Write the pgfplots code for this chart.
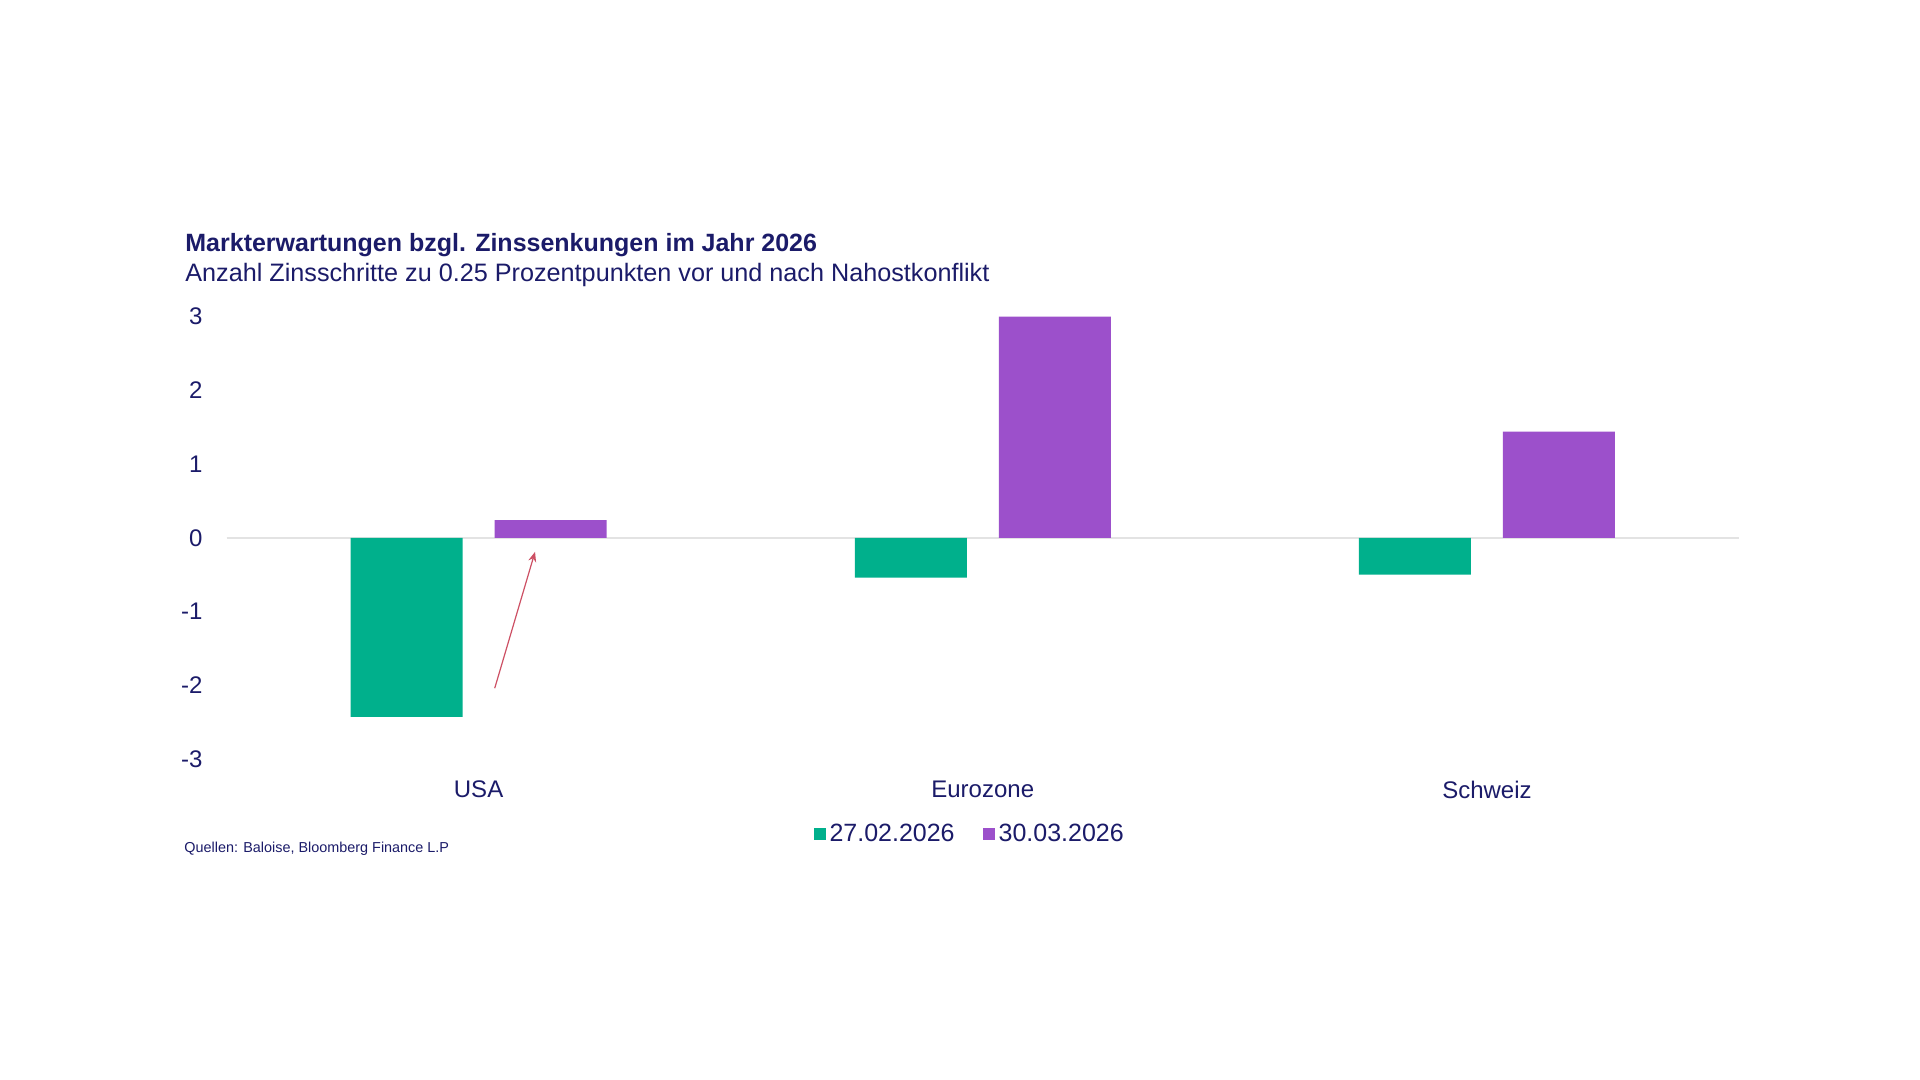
\documentclass[border=0pt]{standalone}
\usepackage{pgfplots}
\pgfplotsset{compat=1.18}
\usetikzlibrary{arrows.meta}
\usepackage{fontspec}
\setmainfont{Liberation Sans}
\setsansfont{Liberation Sans}
\definecolor{navy}{RGB}{27,27,105}
\definecolor{cgreen}{RGB}{0,176,140}
\definecolor{cpurple}{RGB}{156,80,203}
\definecolor{carrow}{RGB}{205,80,100}
\begin{document}
\begin{tikzpicture}[x=1pt,y=1pt]
\fill[white] (0,0) rectangle (960,540);
\node[anchor=west, inner sep=0, text=navy, font=\fontsize{12.5}{14}\selectfont\bfseries] at (92.5,417.5) {Markterwartungen bzgl. Zinssenkungen im Jahr 2026};
\node[anchor=west, inner sep=0, text=navy, font=\fontsize{12.6}{14}\selectfont] at (92.5,402.3) {Anzahl Zinsschritte zu 0.25 Prozentpunkten vor und nach Nahostkonflikt};
\node[anchor=west, inner sep=0, text=navy, font=\fontsize{7.2}{8}\selectfont] at (92,115.5) {Quellen: Baloise, Bloomberg Finance L.P};
\begin{axis}[at={(113.25pt,160.5pt)}, anchor=south west, scale only axis,
  width=756.25pt, height=221.15pt,
  xmin=-0.5, xmax=2.5, ymin=-3, ymax=3,
  axis line style={draw=none}, tick style={draw=none},
  xtick={0,1,2}, xticklabels={USA,Eurozone,Schweiz},
  ytick={-3,-2,-1,0,1,2,3}, yticklabels={-3,-2,-1,0,1,2,3},
  extra y ticks={0}, extra y tick labels={},
  extra y tick style={grid=major, major grid style={draw=gray!22, line width=1pt}},
  ticklabel style={text=navy, font=\fontsize{12}{14}\selectfont},
  yticklabel style={xshift=-8.5pt},
  xticklabel style={yshift=-3.2pt},
  ybar=16pt, bar width=56pt,
  legend style={at={(0.492,-0.17)}, anchor=center, draw=none, fill=none,
    legend columns=2, font=\fontsize{12.5}{14}\selectfont, text=navy,
    /tikz/every even column/.append style={column sep=12pt}},
  legend image code/.code={\fill[#1] (0pt,-3pt) rectangle (6pt,3pt);},
]
\addplot[fill=cgreen, draw=none] coordinates {(0,-2.43) (1,-0.54) (2,-0.50)};
\addlegendentry{27.02.2026}
\addplot[fill=cpurple, draw=none] coordinates {(0,0.24) (1,3.0) (2,1.44)};
\addlegendentry{30.03.2026}
\draw[carrow, line width=0.6pt, -{Stealth[length=5pt,width=4pt]}] (axis cs:0.032,-2.04) -- (axis cs:0.112,-0.19);
\end{axis}
\end{tikzpicture}
\end{document}
